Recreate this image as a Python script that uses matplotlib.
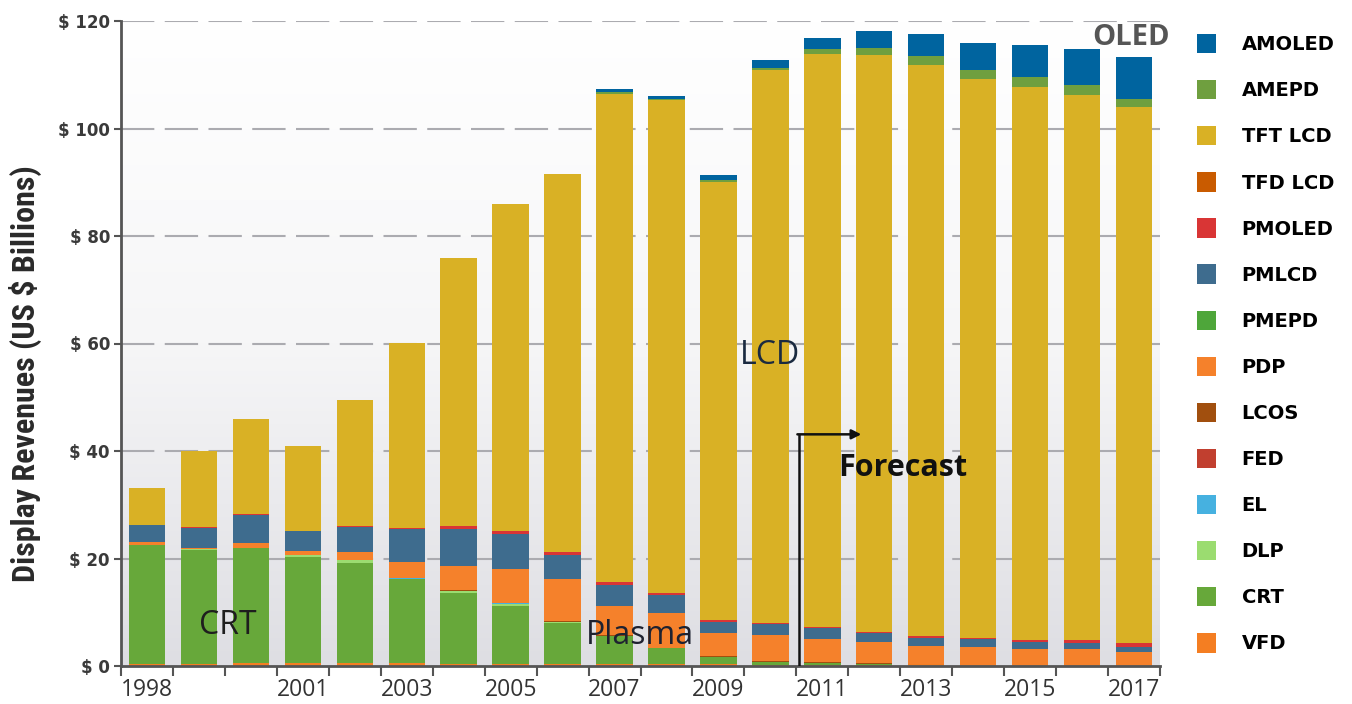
import numpy as np
import matplotlib.pyplot as plt
from matplotlib import font_manager

# Display revenues by technology, US $ billions (1998-2017, 2011+ forecast)
years = [str(y) for y in range(1998, 2018)]
labelled_years = ['1998', '2001', '2003', '2005', '2007', '2009', '2011', '2013', '2015', '2017']

vfd = [0.4, 0.4, 0.5, 0.5, 0.5, 0.5, 0.4, 0.4, 0.3, 0.3, 0.3, 0.3, 0.2, 0.2, 0.2, 0.3, 0.2, 0.2, 0.2, 0.2]
crt = [22.1, 21.2, 21.5, 19.8, 18.7, 15.6, 13.2, 10.8, 7.7, 5.2, 3.0, 1.4, 0.6, 0.4, 0.2, 0, 0, 0, 0, 0]
dlp = [0, 0.2, 0, 0.3, 0.6, 0, 0.4, 0.4, 0.2, 0.1, 0, 0, 0, 0, 0, 0, 0, 0, 0, 0]
el = [0, 0, 0, 0, 0, 0.3, 0, 0.1, 0, 0, 0, 0, 0, 0, 0, 0, 0, 0, 0, 0]
fed = [0] * 20
lcos = [0, 0, 0, 0, 0, 0, 0.1, 0.1, 0.1, 0.1, 0.1, 0.1, 0.1, 0.1, 0.1, 0.1, 0, 0, 0, 0]
pdp = [0.6, 0.2, 0.9, 0.8, 1.4, 2.9, 4.5, 6.2, 7.8, 5.5, 6.4, 4.3, 4.9, 4.4, 3.9, 3.4, 3.3, 3.0, 3.0, 2.4]
pmepd = [0] * 20
pmlcd = [3.1, 3.7, 5.2, 3.7, 4.7, 6.1, 6.9, 6.5, 4.5, 3.9, 3.4, 2.1, 2.0, 1.9, 1.7, 1.5, 1.5, 1.3, 1.1, 0.9]
pmoled = [0.1, 0.1, 0.1, 0.1, 0.1, 0.2, 0.6, 0.6, 0.6, 0.5, 0.4, 0.3, 0.2, 0.3, 0.3, 0.3, 0.3, 0.3, 0.5, 0.8]
tfd_lcd = [0] * 20
tft_lcd = [6.9, 14.2, 17.8, 15.8, 23.5, 34.5, 49.8, 60.9, 70.4, 90.9, 91.7, 81.6, 102.9,
           106.5, 107.2, 106.3, 103.9, 102.9, 101.4, 99.7]
amepd = [0, 0, 0, 0, 0, 0, 0, 0, 0, 0.2, 0.2, 0.3, 0.4, 0.9, 1.3, 1.5, 1.7, 1.9, 1.9, 1.5]
amoled = [0, 0, 0, 0, 0, 0, 0, 0, 0, 0.7, 0.6, 0.9, 1.4, 2.2, 3.2, 4.1, 5.0, 5.9, 6.7, 7.8]

# bottom of the stack first
layers = [
    ('VFD', vfd, '#f47e22'),
    ('CRT', crt, '#67a83a'),
    ('DLP', dlp, '#9bdc70'),
    ('EL', el, '#46b1e0'),
    ('FED', fed, '#c13f2f'),
    ('LCOS', lcos, '#a14f0e'),
    ('PDP', pdp, '#f5812b'),
    ('PMEPD', pmepd, '#4ea63a'),
    ('PMLCD', pmlcd, '#3e6c8e'),
    ('PMOLED', pmoled, '#d93535'),
    ('TFD LCD', tfd_lcd, '#c95b00'),
    ('TFT LCD', tft_lcd, '#d9b125'),
    ('AMEPD', amepd, '#6f9f3f'),
    ('AMOLED', amoled, '#00649f'),
]

fig = plt.figure(figsize=(13.52, 7.04), dpi=100)
ax = fig.add_axes([121 / 1352, 38 / 704, 1039 / 1352, 645 / 704])

x = np.arange(len(years))
ax.set_xlim(-0.5, 19.5)
ax.set_ylim(0, 120)

# soft grey gradient behind the bars
grad = np.linspace(0, 1, 256).reshape(-1, 1)
ax.imshow(grad, extent=(-0.5, 19.5, 0, 120), origin='upper', aspect='auto',
          cmap=plt.matplotlib.colors.LinearSegmentedColormap.from_list('bg', ['#ffffff', '#f6f6f7', '#dedee3']),
          zorder=0)

for g in range(20, 121, 20):
    ax.axhline(g, color='#ababb0', lw=1.5, dashes=(16, 5), zorder=1)

handles = []
bottom = np.zeros(len(years))
for name, vals, color in layers:
    b = ax.bar(x, vals, 0.7, bottom=bottom, color=color, lw=0, label=name, zorder=2)
    handles.append(b)
    bottom += np.array(vals)

# axes styling
for s in ['top', 'right']:
    ax.spines[s].set_visible(False)
ax.spines['left'].set_color('#555555')
ax.spines['left'].set_linewidth(2)
ax.spines['bottom'].set_color('#555555')
ax.spines['bottom'].set_linewidth(2)

ax.set_yticks(range(0, 121, 20))
ax.set_yticklabels(['$ %d' % v for v in range(0, 121, 20)], fontsize=12,
                   fontweight='bold', color='#3a3a3a')
ax.tick_params(axis='y', length=5, width=1.5, color='#555555', pad=3)

ax.set_xticks([years.index(y) for y in labelled_years])
ax.set_xticklabels(labelled_years, family='Open Sans', fontsize=16.5, color='#333333')
ax.set_xticks(np.arange(-0.5, 20, 1), minor=True)
ax.tick_params(axis='x', which='major', length=0, pad=9)
ax.tick_params(axis='x', which='minor', length=7, width=1.5, color='#555555')

# narrow bold face for the axis title if one is available
names = {f.name for f in font_manager.fontManager.ttflist}
ylab_font = dict(family='DejaVu Sans', stretch='condensed', fontsize=18.5)
for cand in ['Liberation Sans Narrow', 'Roboto Condensed', 'Open Sans Condensed']:
    if cand in names:
        ylab_font = dict(family=cand, fontsize=23)
        break

fig.text(25 / 1352, 1 - 374 / 704, 'Display Revenues (US $ Billions)', rotation=90,
         ha='center', va='center', fontweight='bold', color='#2a2a2a', **ylab_font)

# technology labels
ax.text(1.56, 5.9, 'CRT', family='Open Sans', fontsize=23, color='#1e1e1e', ha='center', va='baseline', zorder=4)
ax.text(9.49, 4.0, 'Plasma', family='Open Sans', fontsize=23, color='#1e2230', ha='center', va='baseline', zorder=4)
ax.text(12.0, 56.1, 'LCD', family='Open Sans', fontsize=23, color='#1a2a40', ha='center', va='baseline', zorder=4)
ax.text(18.95, 115.6, 'OLED', family='Open Sans', fontsize=21, fontweight='bold', color='#555555',
        ha='center', va='baseline', zorder=4, clip_on=False)
ax.text(14.55, 35.4, 'Forecast', family='Open Sans', fontsize=22, fontweight='bold', color='#111111',
        ha='center', va='baseline', zorder=4)

# forecast marker
ax.plot([12.55, 12.55], [0, 43.1], color='#111111', lw=1.8, zorder=4, solid_capstyle='butt')
ax.annotate('', xy=(13.75, 43.1), xytext=(12.52, 43.1),
            arrowprops=dict(arrowstyle='-|>', color='#111111', lw=1.8, shrinkA=0, shrinkB=0,
                            mutation_scale=14), zorder=4)

leg = ax.legend(handles[::-1], [l[0] for l in layers][::-1], loc='upper left',
                bbox_to_anchor=(1197 / 1352, 1 - 34 / 704), bbox_transform=fig.transFigure,
                frameon=False, prop={'weight': 'bold', 'size': 14},
                handlelength=1.0, handleheight=1.15, handletextpad=1.3, labelspacing=1.33,
                borderpad=0, borderaxespad=0)

fig.savefig('out.png', dpi=100)
